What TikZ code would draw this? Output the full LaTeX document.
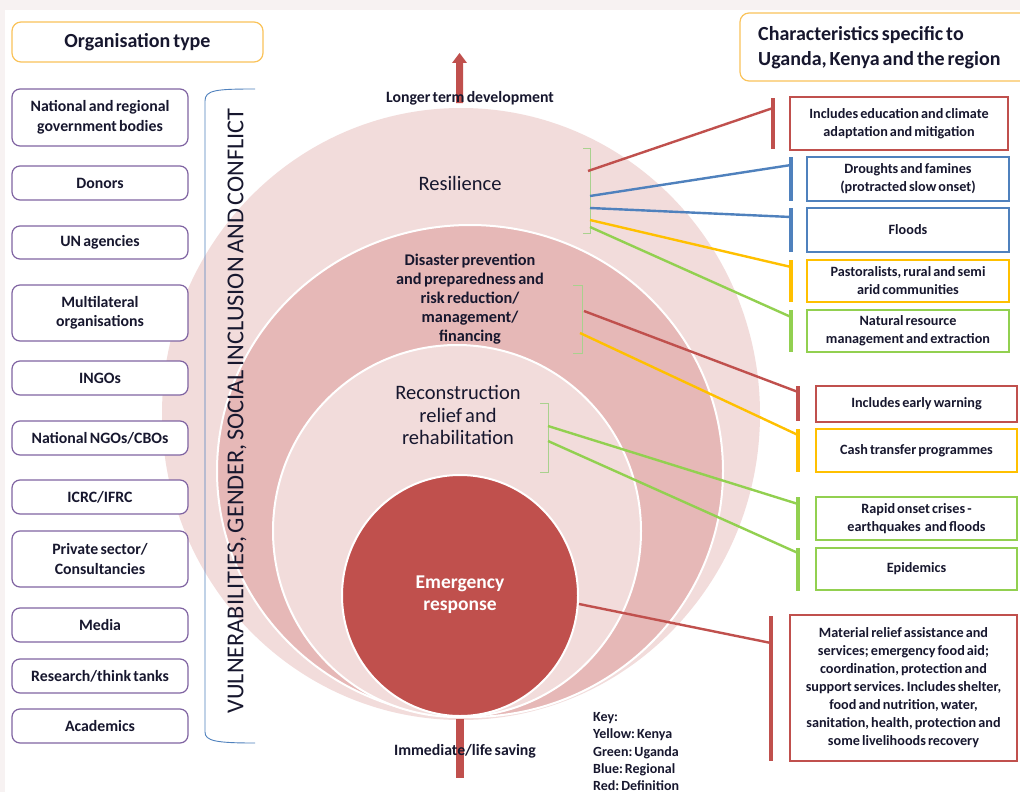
\documentclass[tikz,border=0pt]{standalone}
\usepackage{fontspec}
\setmainfont{Carlito}[WordSpace={0.65,0,0}]
\frenchspacing
\definecolor{pinkA}{HTML}{F2DCDB}
\definecolor{pinkB}{HTML}{E6B8B7}
\definecolor{redC}{HTML}{C0504D}
\definecolor{blueC}{HTML}{4F81BD}
\definecolor{yelC}{HTML}{FFC000}
\definecolor{grnC}{HTML}{92D050}
\definecolor{brgrn}{HTML}{A9D18E}
\definecolor{purC}{HTML}{8064A2}
\definecolor{hdrC}{HTML}{FAC35A}
\definecolor{txtC}{HTML}{17172E}
\definecolor{bgC}{HTML}{F7F2F2}
\begin{document}
\begin{tikzpicture}[x=1pt,y=-1pt,
  txt/.style={text=txtC, inner sep=0pt},
  orgbox/.style={draw=purC, line width=1.2pt, rounded corners=8pt, fill=white,
    minimum width=176pt, align=center,
    font=\bfseries\fontsize{15.8}{19.5}\selectfont, text=txtC, inner sep=0pt},
  charbox/.style={draw, line width=2pt, fill=white, align=center,
    font=\bfseries\fontsize{14.2}{18}\selectfont, text=txtC, inner sep=0pt},
  hdrbox/.style={draw=hdrC, line width=1.2pt, rounded corners=9pt, fill=white},
  bar/.style={line width=3.5pt},
  conn/.style={line width=2.4pt},
  brk/.style={draw=brgrn, line width=1pt},
  ring/.style={draw=white, line width=2pt},
]
\useasboundingbox (0,0) rectangle (1020,792);
\fill[bgC] (0,0) rectangle (1020,792);
\fill[white] (5,10) rectangle (1020,792);

% ---------- nested circles ----------
\fill[pinkA] (461,414) ellipse [x radius=299pt, y radius=306pt];
\filldraw[ring, fill=pinkB] (470,471) ellipse [x radius=253pt, y radius=246pt];
\filldraw[ring, fill=pinkA] (457,531) ellipse [x radius=184pt, y radius=186pt];
\filldraw[ring, fill=redC] (460,595.5) ellipse [x radius=118pt, y radius=120.5pt];

% ---------- vertical arrows ----------
\fill[redC] (456,103) -- (456,63) -- (452,63) -- (459.5,53) -- (467,63) -- (463,63) -- (463,103) -- cycle;
\fill[redC] (456,719) rectangle (464,778);
\node[txt, font=\bfseries\fontsize{15.8}{18}\selectfont] (longer) at (470,98) {Longer term development};
\node[txt, font=\bfseries\fontsize{15.8}{18}\selectfont] (immed) at (465,751) {Immediate/life saving};

% ---------- circle labels ----------
\node[txt, font=\fontsize{20.5}{24}\selectfont] (resil) at (460,183) {Resilience};
\node[txt, align=center, font=\bfseries\fontsize{16.3}{19}\selectfont] (disas) at (470,299)
  {Disaster prevention\\and preparedness and\\risk reduction/\\management/\\financing};
\node[txt, align=center, font=\fontsize{20.5}{22.5}\selectfont] (recon) at (458,415)
  {Reconstruction\\relief and\\rehabilitation};
\node[inner sep=0pt, text=white, align=center, font=\bfseries\fontsize{19.5}{22}\selectfont] (emerg) at (460,595)
  {Emergency\\response};

% ---------- brackets on circles ----------
\coordinate (brA1) at (590,148); \coordinate (brA2) at (590,233);
\draw[brk] (583,148) -- (brA1) -- (brA2) -- (583,233);
\coordinate (brB1) at (582,285); \coordinate (brB2) at (582,353);
\draw[brk] (573,285) -- (brB1) -- (brB2) -- (573,353);
\coordinate (brC1) at (548,403); \coordinate (brC2) at (548,472);
\draw[brk] (540,403) -- (brC1) -- (brC2) -- (540,472);

% connector start points
\coordinate (sA1) at (588,171);
\coordinate (sA2) at (590,196);
\coordinate (sA3) at (590,208);
\coordinate (sA4) at (590,220);
\coordinate (sA5) at (590,227);
\coordinate (sB1) at (584,311);
\coordinate (sB2) at (580,333);
\coordinate (sC1) at (548,426);
\coordinate (sC2) at (548,441);
\coordinate (sD1) at (579,604);

% connector end points on bars
\coordinate (eA1) at (773,108);
\coordinate (eA2) at (791,165);
\coordinate (eA3) at (791,217);
\coordinate (eA4) at (791,267);
\coordinate (eA5) at (791,317);
\coordinate (eB1) at (798,392);
\coordinate (eB2) at (798,435);
\coordinate (eC1) at (798,504);
\coordinate (eC2) at (798,553);
\coordinate (eD1) at (771,643);

\draw[conn, redC] (sA1) -- (eA1);
\draw[conn, blueC] (sA2) -- (eA2);
\draw[conn, blueC] (sA3) -- (eA3);
\draw[conn, yelC] (sA4) -- (eA4);
\draw[conn, grnC] (sA5) -- (eA5);
\draw[conn, redC] (sB1) -- (eB1);
\draw[conn, yelC] (sB2) -- (eB2);
\draw[conn, grnC] (sC1) -- (eC1);
\draw[conn, grnC] (sC2) -- (eC2);
\draw[conn, redC] (sD1) -- (eD1);

% bars
\draw[bar, redC] (773,98) -- (773,149);
\draw[bar, blueC] (791,157) -- (791,201);
\draw[bar, blueC] (791,208) -- (791,252);
\draw[bar, yelC] (791,260) -- (791,302);
\draw[bar, grnC] (791,310) -- (791,352);
\draw[bar, redC] (798,386) -- (798,421);
\draw[bar, yelC] (798,429) -- (798,472);
\draw[bar, grnC] (798,497) -- (798,540);
\draw[bar, grnC] (798,548) -- (798,591);
\draw[bar, redC] (771,616) -- (771,761);

% ---------- right boxes ----------
\node[charbox, draw=redC, minimum width=218pt, minimum height=53pt] (r1) at (899,123.5)
  {Includes education and climate\\adaptation and mitigation};
\node[charbox, draw=blueC, minimum width=202pt, minimum height=44pt] (r2) at (908,179)
  {Droughts and famines\\(protracted slow onset)};
\node[charbox, draw=blueC, minimum width=202pt, minimum height=44pt] (r3) at (908,230) {Floods};
\node[charbox, draw=yelC, minimum width=202pt, minimum height=42pt] (r4) at (908,281)
  {Pastoralists, rural and semi\\arid communities};
\node[charbox, draw=grnC, minimum width=202pt, minimum height=42pt] (r5) at (908,331)
  {Natural resource\\management and extraction};
\node[charbox, draw=redC, minimum width=201pt, minimum height=36pt] (r6) at (916.5,404)
  {Includes early warning};
\node[charbox, draw=yelC, minimum width=201pt, minimum height=43pt] (r7) at (916.5,450.5)
  {Cash transfer programmes};
\node[charbox, draw=grnC, minimum width=201pt, minimum height=43pt] (r8) at (916.5,518.5)
  {Rapid onset crises -\\earthquakes\ \ and floods};
\node[charbox, draw=grnC, minimum width=201pt, minimum height=42pt] (r9) at (916.5,569) {Epidemics};
\node[charbox, draw=redC, minimum width=227pt, minimum height=146pt] (r10) at (903.5,688)
  {Material relief assistance and\\services; emergency food aid;\\coordination, protection and\\support services. Includes shelter,\\food and nutrition, water,\\sanitation, health, protection and\\some livelihoods recovery};

% ---------- right header ----------
\draw[hdrbox] (740,13) rectangle (1032,81);
\node[txt, anchor=west, align=left, font=\bfseries\fontsize{20}{25}\selectfont] (charhdr) at (758,47.5)
  {Characteristics specific to\\Uganda, Kenya and the region};

% ---------- key ----------
\node[txt, anchor=base west, font=\bfseries\fontsize{14}{17}\selectfont] (k0) at (593,721) {Key:};
\node[txt, anchor=base west, font=\bfseries\fontsize{14}{17}\selectfont] (k1) at (593,738.5) {Yellow: Kenya};
\node[txt, anchor=base west, font=\bfseries\fontsize{14}{17}\selectfont] (k2) at (593,756) {Green: Uganda};
\node[txt, anchor=base west, font=\bfseries\fontsize{14}{17}\selectfont] (k3) at (593,773.5) {Blue: Regional};
\node[txt, anchor=base west, font=\bfseries\fontsize{14}{17}\selectfont] (k4) at (593,790.5) {Red: Definition};

% ---------- left side ----------
\node[hdrbox, minimum width=251pt, minimum height=40pt, inner sep=0pt, text=txtC,
  font=\bfseries\fontsize{20}{24}\selectfont] (orghdr) at (137.5,42) {Organisation type};

\node[orgbox, minimum height=57pt] (o1) at (100,117.5) {National and regional\\government bodies};
\node[orgbox, minimum height=34pt] (o2) at (100,183) {Donors};
\node[orgbox, minimum height=33pt] (o3) at (100,242.5) {UN agencies};
\node[orgbox, minimum height=56pt] (o4) at (100,313) {Multilateral\\organisations};
\node[orgbox, minimum height=34pt] (o5) at (100,378) {INGOs};
\node[orgbox, minimum height=34pt] (o6) at (100,438) {National NGOs/CBOs};
\node[orgbox, minimum height=34pt] (o7) at (100,497) {ICRC/IFRC};
\node[orgbox, minimum height=56pt] (o8) at (100,559) {Private sector/\\Consultancies};
\node[orgbox, minimum height=34pt] (o9) at (100,625) {Media};
\node[orgbox, minimum height=34pt] (o10) at (100,676) {Research/think tanks};
\node[orgbox, minimum height=34pt] (o11) at (100,726) {Academics};

% big bracket and vertical label
\draw[blueC, line width=0.9pt] (255,89) .. controls (216,89) and (205,90) .. (205,101)
  -- (205,732) .. controls (205,741) and (216,743) .. (255,743);
\node[txt, rotate=90, font=\fontsize{24.3}{26}\selectfont] (vuln) at (237,411)
  {VULNERABILITIES, GENDER, SOCIAL INCLUSION AND CONFLICT};
\end{tikzpicture}
\end{document}
